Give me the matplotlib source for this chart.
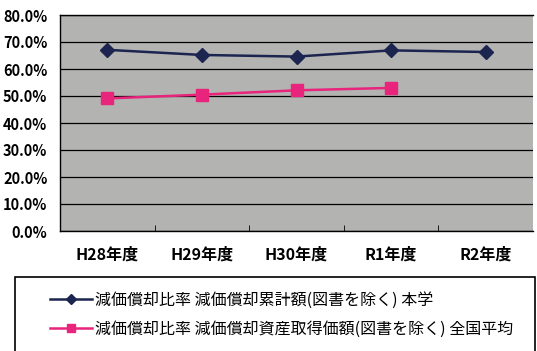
import matplotlib.pyplot as plt
from matplotlib.patches import Rectangle
from matplotlib.ticker import PercentFormatter

plt.rcParams['font.family'] = ['Noto Sans CJK JP', 'DejaVu Sans']

years = ['H28年度', 'H29年度', 'H30年度', 'R1年度', 'R2年度']
own_school = [67.1, 65.2, 64.6, 66.9, 66.3]
national_avg = [49.1, 50.5, 52.1, 53.0]
label_own = '減価償却比率 減価償却累計額(図書を除く) 本学'
label_nat = '減価償却比率 減価償却資産取得価額(図書を除く) 全国平均'

fig = plt.figure(figsize=(5.37, 3.51), dpi=100)
ax = fig.add_axes([60 / 537, 1 - 231 / 351, 473 / 537, 216 / 351])
ax.set_facecolor('#b3b3b1')

x = list(range(len(years)))
l1, = ax.plot(x, own_school, color='#1b2550', lw=1.8, marker='D', ms=7,
              label=label_own)
l2, = ax.plot(x[:len(national_avg)], national_avg, color='#e8247c', lw=1.8,
              marker='s', ms=9, label=label_nat)

ax.set_ylim(0, 80)
ax.set_xlim(-0.5, len(years) - 0.5)
ax.set_yticks(range(0, 81, 10))
ax.yaxis.set_major_formatter(PercentFormatter(decimals=1))
ax.grid(axis='y', color='black', lw=0.9)
ax.set_axisbelow(True)
ax.set_xticks(x)
ax.set_xticklabels(years, fontsize=11.5, fontweight='bold')
ax.set_xticks([i + 0.5 for i in x[:-1]], minor=True)
ax.tick_params(axis='x', which='major', length=0, pad=11)
ax.tick_params(axis='x', which='minor', direction='in', length=4)
ax.tick_params(axis='y', length=0, labelsize=10.5, pad=9)
for lab in ax.get_yticklabels():
    lab.set_fontweight('bold')
for s in ax.spines.values():
    s.set_color('black')
    s.set_linewidth(1.0)
ax.spines['right'].set_visible(False)

# legend box, open at the bottom of the picture
fig.patches.append(Rectangle((15 / 537, -0.05), 520 / 537, 0.05 + 1 - 277 / 351,
                             transform=fig.transFigure, fill=False,
                             edgecolor='black', lw=1.2))
fig.legend(handles=[l1, l2], loc='upper left',
           bbox_to_anchor=(36 / 537, 1 - 277 / 351), frameon=False,
           fontsize=11.5, handlelength=2.6, handletextpad=0.2, labelspacing=0.75,
           markerscale=0.7)

fig.savefig('out.png', dpi=100, facecolor='white')
